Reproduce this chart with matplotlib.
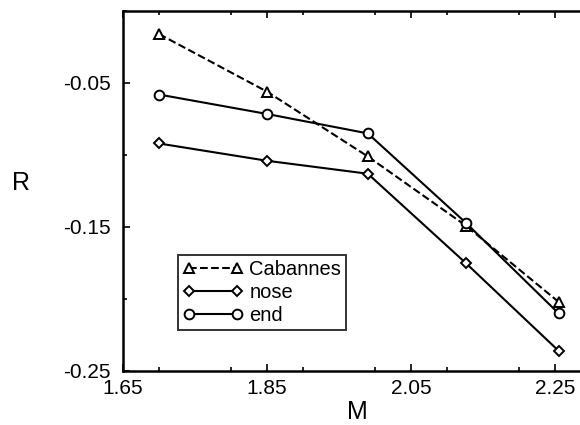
import matplotlib
matplotlib.use("Agg")
import matplotlib.pyplot as plt
from matplotlib.ticker import MultipleLocator

plt.rcParams['font.family'] = ['Liberation Sans', 'DejaVu Sans']

M = [1.70, 1.85, 1.99, 2.126, 2.255]
cabannes = [-0.016, -0.056, -0.101, -0.149, -0.202]
nose = [-0.092, -0.104, -0.113, -0.175, -0.236]
end = [-0.058, -0.0715, -0.085, -0.147, -0.210]

xticks = [1.65, 1.85, 2.05, 2.25]
xticklabels = ["1.65", "1.85", "2.05", "2.25"]
yticks = [-0.25, -0.15, -0.05]
yticklabels = ["-0.25", "-0.15", "-0.05"]

fig = plt.figure(figsize=(5.8, 4.25), dpi=100)
# axes extends past the right edge of the figure, as in the reference
ax = fig.add_axes([123/580, 54/425, 468/580, 360/425])

mk = dict(color='black', lw=1.5, ms=7, mfc='white', mec='black', mew=1.4)
ax.plot(M, cabannes, linestyle='--', marker='^', label='Cabannes', **mk)
ax.plot(M, nose, linestyle='-', marker='D', label='nose', **{**mk, 'ms': 5.5})
ax.plot(M, end, linestyle='-', marker='o', label='end', **mk)

ax.set_xlim(1.65, 2.30)
ax.set_ylim(-0.25, 0.0)
ax.set_xticks(xticks)
ax.set_xticklabels(xticklabels)
ax.set_yticks(yticks)
ax.set_yticklabels(yticklabels)
ax.xaxis.set_minor_locator(MultipleLocator(0.1))
ax.yaxis.set_minor_locator(MultipleLocator(0.05))
ax.tick_params(which='both', direction='in', top=True, right=False,
               labelsize=15, width=1.2)
ax.tick_params(which='major', length=5)
ax.tick_params(which='minor', length=3)
ax.tick_params(axis='x', pad=6)
ax.tick_params(axis='y', pad=9)
for s in ax.spines.values():
    s.set_linewidth(1.8)

fig.text(21/580, 1 - 183/425, 'R', fontsize=18, ha='center', va='center')
fig.text(357/580, 1 - 412/425, 'M', fontsize=18, ha='center', va='center')

leg = ax.legend(loc='upper left', bbox_to_anchor=(55/468, 1 - 244/360),
                fontsize=14.5, frameon=True, fancybox=False, edgecolor='black',
                handlelength=3.0, handletextpad=0.3, borderpad=0.25,
                labelspacing=0.2, borderaxespad=0, numpoints=2)
leg.get_frame().set_linewidth(1.4)

fig.savefig('out.png', dpi=100)
